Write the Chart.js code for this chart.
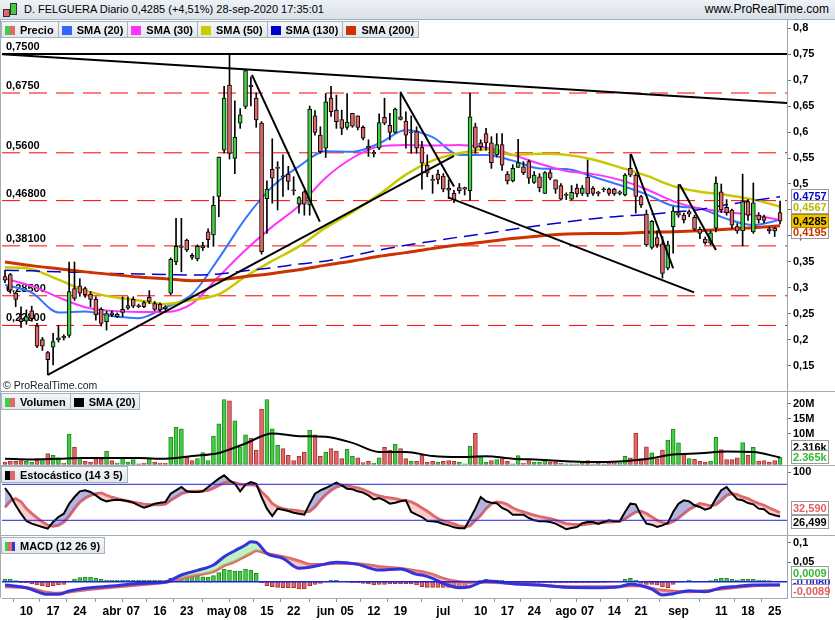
<!DOCTYPE html>
<html>
<head>
<meta charset="utf-8">
<title>D. FELGUERA Diario</title>
<script src="https://cdn.jsdelivr.net/npm/chart.js@4.4.1/dist/chart.umd.min.js"></script>
<style>
  html, body { margin: 0; padding: 0; background: #fff; }
  body { width: 835px; height: 620px; position: relative; overflow: hidden; font-family: "Liberation Sans", Arial, sans-serif; }
  .abs { position: absolute; }
  canvas { position: absolute; left: 0; display: block; }
  #head { left: 0; top: 0; width: 835px; height: 20px; background: linear-gradient(#eef2f6, #d9e0e7); border-bottom: 1px solid #a7b1bb; box-sizing: border-box; }
  #title { left: 24px; top: 3px; font-size: 11px; white-space: nowrap; }
  #site { right: 6px; top: 2px; font-size: 12px; white-space: nowrap; }
  .legend { display: flex; }
  .legend div { height: 17px; line-height: 16px; padding: 0 4px 0 3px; border: 1px solid #a9b3bd; margin-right: -1px; background: linear-gradient(#f4f6f8, #e2e7ec); font-size: 11px; font-weight: bold; white-space: nowrap; box-sizing: border-box; }
  .legend i { display: inline-block; width: 10px; height: 9px; vertical-align: -1px; margin-right: 5px; }
  .sep { left: 0; width: 835px; height: 1px; background: #a3adb7; }
  #copy { left: 3px; top: 379px; font-size: 10.5px; color: #222; }
</style>
</head>
<body>
<canvas id="cPrice" width="835" height="371" style="top:20px"></canvas>
<canvas id="cVol" width="835" height="73" style="top:392px"></canvas>
<canvas id="cSto" width="835" height="69" style="top:466px"></canvas>
<canvas id="cMacd" width="835" height="84" style="top:536px"></canvas>

<div class="abs sep" style="top:391px"></div>
<div class="abs sep" style="top:465px"></div>
<div class="abs sep" style="top:535px"></div>
<div class="abs" style="left:0;top:20px;width:1px;height:578px;background:#a3adb7"></div>

<div id="head" class="abs">
  <span class="abs" style="left:3px;top:9px;width:5px;height:6px;background:#e06868;border:1px solid #333"></span>
  <span class="abs" style="left:10px;top:3px;width:5px;height:10px;background:#44cc44;border:1px solid #333"></span>
  <div id="title" class="abs">D. FELGUERA Diario 0,4285 (+4,51%) 28-sep-2020 17:35:01</div>
  <div id="site" class="abs">www.ProRealTime.com</div>
</div>

<div class="abs legend" style="left:1px;top:21px">
  <div><i style="background:linear-gradient(90deg,#44cc44 50%,#e06868 50%)"></i>Precio</div>
  <div><i style="background:#3366ff"></i>SMA (20)</div>
  <div><i style="background:#ff33ff"></i>SMA (30)</div>
  <div><i style="background:#cccc00"></i>SMA (50)</div>
  <div><i style="background:#0000cc"></i>SMA (130)</div>
  <div><i style="background:#cc3300"></i>SMA (200)</div>
</div>
<div class="abs legend" style="left:1px;top:393px">
  <div><i style="background:linear-gradient(90deg,#44cc44 50%,#e06868 50%)"></i>Volumen</div>
  <div><i style="background:#000"></i>SMA (20)</div>
</div>
<div class="abs legend" style="left:1px;top:466px">
  <div><i style="background:linear-gradient(90deg,#000 50%,#e06868 50%)"></i>Estocástico (14 3 5)</div>
</div>
<div class="abs legend" style="left:1px;top:537px">
  <div><i style="background:linear-gradient(90deg,#44cc44 33%,#e06868 33%,#e06868 66%,#3333dd 66%)"></i>MACD (12 26 9)</div>
</div>
<div id="copy" class="abs">© ProRealTime.com</div>

<script>
// x axis: one slot per trading day, 4 mar -> 28 sep 2020
const xTickIdx = [4, 9, 14, 20, 24, 29, 34, 40, 44, 49, 54, 60, 64, 69, 74, 82, 89, 94, 99, 105, 109, 114, 119, 126, 134, 139, 144];
const xTickText = ['10', '17', '24', 'abr', '07', '16', '23', 'may', '08', '15', '22', 'jun', '05', '12', '19', 'jul', '10', '17', '24', 'ago', '07', '14', '21', 'sep', '11', '18', '25'];

// daily prices
const open = [0.322,0.326,0.290,0.241,0.236,0.256,0.227,0.201,0.176,0.186,
  0.200,0.204,0.209,0.299,0.304,0.299,0.288,0.278,0.259,0.235,
  0.252,0.245,0.259,0.261,0.278,0.266,0.272,0.282,0.270,0.269,
  0.260,0.290,0.350,0.381,0.392,0.363,0.356,0.377,0.408,0.402,
  0.476,0.565,0.690,0.549,0.617,0.649,0.690,0.665,0.617,0.472,
  0.528,0.532,0.515,0.519,0.488,0.461,0.485,0.460,0.631,0.594,
  0.569,0.665,0.642,0.624,0.609,0.636,0.631,0.609,0.573,0.561,
  0.569,0.628,0.613,0.599,0.624,0.621,0.600,0.601,0.571,0.536,
  0.508,0.519,0.515,0.492,0.482,0.493,0.493,0.487,0.610,0.579,
  0.597,0.579,0.556,0.576,0.519,0.506,0.532,0.533,0.543,0.503,
  0.514,0.482,0.522,0.508,0.497,0.478,0.471,0.492,0.482,0.513,
  0.492,0.483,0.489,0.490,0.490,0.482,0.479,0.530,0.517,0.476,
  0.442,0.378,0.397,0.385,0.338,0.418,0.445,0.440,0.447,0.436,
  0.413,0.394,0.386,0.415,0.485,0.455,0.450,0.418,0.410,0.466,
  0.408,0.440,0.437,0.414,0.415,0.445];
const high = [0.334,0.328,0.292,0.264,0.258,0.265,0.232,0.205,0.178,0.213,
  0.228,0.210,0.350,0.350,0.318,0.302,0.293,0.283,0.262,0.255,
  0.256,0.252,0.283,0.283,0.283,0.269,0.275,0.295,0.274,0.271,
  0.266,0.358,0.434,0.434,0.394,0.366,0.383,0.388,0.414,0.476,
  0.552,0.688,0.751,0.660,0.645,0.720,0.706,0.675,0.620,0.506,
  0.587,0.543,0.556,0.534,0.514,0.476,0.487,0.650,0.641,0.610,
  0.674,0.688,0.671,0.642,0.674,0.636,0.631,0.612,0.585,0.565,
  0.635,0.665,0.636,0.646,0.677,0.639,0.631,0.610,0.582,0.556,
  0.517,0.527,0.520,0.508,0.488,0.501,0.494,0.675,0.617,0.585,
  0.607,0.591,0.597,0.597,0.524,0.537,0.586,0.543,0.546,0.524,
  0.520,0.524,0.527,0.508,0.501,0.483,0.497,0.500,0.497,0.546,
  0.495,0.486,0.493,0.492,0.492,0.487,0.520,0.557,0.520,0.478,
  0.450,0.430,0.410,0.399,0.390,0.456,0.499,0.444,0.450,0.440,
  0.417,0.398,0.410,0.514,0.500,0.470,0.452,0.424,0.519,0.470,
  0.502,0.445,0.440,0.417,0.417,0.467];
const low = [0.310,0.290,0.264,0.224,0.230,0.236,0.185,0.180,0.133,0.152,
  0.196,0.200,0.205,0.276,0.284,0.282,0.264,0.238,0.227,0.219,
  0.245,0.243,0.245,0.259,0.262,0.262,0.262,0.270,0.256,0.255,
  0.257,0.287,0.345,0.331,0.370,0.355,0.352,0.372,0.378,0.380,
  0.437,0.560,0.548,0.520,0.607,0.645,0.650,0.609,0.365,0.405,
  0.463,0.450,0.476,0.489,0.479,0.444,0.440,0.440,0.594,0.559,
  0.551,0.630,0.607,0.595,0.605,0.609,0.604,0.585,0.553,0.552,
  0.566,0.614,0.585,0.598,0.623,0.569,0.559,0.559,0.490,0.514,
  0.482,0.500,0.485,0.472,0.464,0.482,0.479,0.469,0.559,0.565,
  0.565,0.530,0.552,0.526,0.500,0.504,0.532,0.518,0.501,0.501,
  0.485,0.482,0.508,0.482,0.469,0.470,0.469,0.475,0.478,0.476,
  0.478,0.477,0.485,0.478,0.478,0.479,0.477,0.514,0.444,0.455,
  0.380,0.375,0.378,0.319,0.335,0.367,0.436,0.425,0.437,0.410,
  0.395,0.384,0.383,0.408,0.445,0.440,0.415,0.405,0.381,0.430,
  0.405,0.425,0.425,0.405,0.399,0.423];
const close = [0.315,0.296,0.278,0.235,0.245,0.241,0.188,0.188,0.162,0.197,
  0.204,0.207,0.293,0.280,0.290,0.287,0.278,0.248,0.232,0.251,
  0.248,0.250,0.253,0.266,0.265,0.264,0.264,0.274,0.259,0.258,
  0.264,0.355,0.380,0.378,0.373,0.359,0.380,0.381,0.393,0.459,
  0.552,0.665,0.559,0.590,0.633,0.718,0.687,0.623,0.370,0.490,
  0.511,0.530,0.514,0.505,0.487,0.474,0.461,0.644,0.599,0.562,
  0.658,0.639,0.620,0.607,0.619,0.611,0.609,0.588,0.569,0.558,
  0.618,0.617,0.599,0.644,0.629,0.594,0.598,0.569,0.540,0.521,
  0.507,0.509,0.490,0.488,0.470,0.487,0.490,0.629,0.569,0.572,
  0.579,0.541,0.576,0.536,0.506,0.530,0.541,0.522,0.511,0.517,
  0.493,0.522,0.511,0.490,0.471,0.479,0.484,0.481,0.492,0.481,
  0.482,0.482,0.490,0.482,0.481,0.485,0.517,0.517,0.476,0.460,
  0.383,0.428,0.383,0.328,0.383,0.448,0.440,0.431,0.442,0.413,
  0.405,0.387,0.406,0.502,0.450,0.445,0.421,0.410,0.466,0.440,
  0.464,0.431,0.430,0.410,0.410,0.4285];

// moving averages, read every 5 sessions
const maIdx = [0,5,10,15,20,25,30,35,40,45,50,55,60,65,70,75,80,85,90,95,100,105,110,115,120,125,130,135,140,145];
const sma20 = [0.306,0.291,0.253,0.255,0.246,0.242,0.263,0.288,0.357,0.434,0.495,0.534,0.563,0.562,0.578,0.604,0.590,0.556,0.556,0.545,0.530,0.529,0.514,0.498,0.480,0.458,0.453,0.433,0.421,0.431];
const sma30 = [0.318,0.304,0.282,0.263,0.256,0.254,0.254,0.270,0.322,0.373,0.418,0.458,0.512,0.550,0.572,0.575,0.574,0.575,0.570,0.556,0.539,0.525,0.519,0.508,0.490,0.467,0.453,0.446,0.440,0.431];
const sma50 = [0.340,0.336,0.316,0.295,0.283,0.276,0.269,0.277,0.288,0.322,0.352,0.380,0.416,0.446,0.480,0.518,0.545,0.559,0.567,0.556,0.558,0.556,0.547,0.532,0.516,0.496,0.485,0.479,0.470,0.4567];
const sma130 = [0.334,0.333,0.331,0.330,0.328,0.327,0.326,0.325,0.327,0.333,0.339,0.346,0.352,0.362,0.373,0.382,0.390,0.398,0.405,0.413,0.420,0.427,0.433,0.438,0.441,0.446,0.451,0.460,0.468,0.4757];
const sma200 = [0.350,0.343,0.337,0.331,0.326,0.321,0.318,0.314,0.316,0.322,0.328,0.335,0.344,0.352,0.361,0.368,0.376,0.383,0.389,0.395,0.400,0.404,0.405,0.405,0.407,0.408,0.410,0.413,0.416,0.4195];

// drawn support / resistance levels and trend lines (session index, price)
const topLevel = 0.75;
const dashLevels = [0.675, 0.56, 0.468, 0.381, 0.285, 0.228];
const levelText = ['0,7500', '0,6750', '0,5600', '0,46800', '0,38100', '0,28500', '0,22800'];
const trendLines = [
  [[-0.5, 0.7496], [146.3, 0.656]],
  [[8, 0.133], [84, 0.554]],
  [[46.2, 0.710], [58.9, 0.4275]],
  [[74, 0.676], [84, 0.495]],
  [[82.9, 0.4744], [128.9, 0.2917]],
  [[117.1, 0.5577], [125, 0.338]],
  [[126.2, 0.4994], [133, 0.373]]
];

// volume (millions) and direction vs previous close
const volume = [0.8,1.0,1.0,1.3,1.0,0.8,1.9,1.3,3.6,3.0,
  2.2,0.45,10.0,5.6,1.6,1.0,0.7,1.9,1.7,4.4,
  1.3,0.45,2.4,0.7,1.6,0.2,0.45,1.9,0.8,0.45,
  0.45,8.9,12.2,11.7,2.4,1.3,1.9,3.9,1.3,9.3,
  13.3,21.3,20.9,14.3,5.8,9.7,8.6,4.7,18.2,21.3,
  11.7,6.3,5.2,3.0,1.3,2.7,4.1,11.3,9.7,2.7,
  4.1,5.2,4.4,1.9,5.0,2.7,2.2,0.6,1.0,0.45,
  2.2,5.6,4.7,6.7,5.2,1.9,1.1,1.0,3.0,0.8,
  1.0,0.8,1.0,1.3,1.0,0.8,0.2,6.0,10.2,2.7,
  0.8,1.3,1.6,1.9,1.0,0.2,2.9,0.45,1.3,0.8,
  0.8,1.3,0.8,0.8,0.45,0.2,0.2,0.2,0.8,1.3,
  0.2,0.45,0.2,0.45,0.45,0.45,2.7,2.2,10.2,1.9,
  5.8,3.8,1.9,4.7,8.0,11.6,7.1,3.6,1.9,1.7,
  1.1,0.8,1.1,8.9,4.9,1.6,1.6,2.2,7.2,3.0,
  5.6,1.1,1.3,0.8,1.3,2.365];
const volUp = [0,0,0,0,1,1,0,1,0,1, 1,0,1,0,1,0,0,0,0,1, 0,1,1,1,1,0,0,1,0,0,
  0,1,1,1,0,0,1,1,1,1, 1,1,0,1,1,1,0,0,0,1, 1,1,0,0,0,0,0,1,0,0,
  1,0,0,0,1,1,0,0,0,1, 1,0,0,1,0,0,1,0,0,0, 0,1,0,0,0,1,1,1,0,1,
  1,0,1,0,0,1,1,0,0,1, 1,1,0,0,0,1,1,0,1,0, 1,0,1,0,0,1,1,0,0,0,
  0,1,0,0,1,1,1,0,1,0, 0,0,1,1,0,0,0,0,1,0, 1,0,0,0,0,1];
const volSma = [1.9,1.67,1.9,2.1,2.1,2.1,1.9,2.78,3.8,6.9,10.2,9.3,9.1,7.1,4.1,4.1,2.78,2.45,2.67,1.9,1.56,1.1,0.78,1.0,1.78,3.3,3.67,4.3,4.1,2.316];

// stochastic (14 3 5)
const stochK = [73.8,61.6,44.9,31,18.8,14.4,11.6,8.8,6.1,17.2,
  25.5,31,47.7,58.8,68.3,70,67.2,61.6,55,51.6,
  53.3,54.4,53.3,52.2,49.4,45,41,43.8,47.7,49.4,
  50.5,64.4,70,75.5,68.3,67.2,67.2,68.3,75.5,82.7,
  89.4,95,86.6,81,68.3,79.4,83.8,81,58.8,39.4,
  27.2,39.4,37.7,35.5,32.7,31,29.4,47.7,64.4,70,
  73.8,78.3,82.7,78.3,72.7,71.6,68.3,66.1,61.6,55,
  57.2,53.3,47.7,49.4,51.6,53.3,33.8,29.4,25.5,18.8,
  18.3,17.2,13.8,11.6,8.3,6.6,6.6,22.7,39.4,58.8,
  51.6,49.4,48.3,40.5,36.6,29.4,29.4,29.4,23.8,20,
  18.3,18.3,17.2,14.4,10,5,7.2,8.8,15,17.2,
  17.2,13.8,17.2,20,18.3,18.3,33.8,47.7,46.6,28.3,
  14.4,12.7,8.8,11.6,15.5,33.8,47.7,53.3,51.6,45,
  42.2,37.7,40.5,56.1,70,75.5,64.4,55,53.3,48.8,
  46.6,39.4,38.3,31,28.3,26.499];
const stochD = [41.5,52,56,50.5,39.4,31,23.8,17.2,11.6,10,
  11.6,17.2,27.2,39.4,50.5,57.2,61.6,64.4,65.5,61.6,
  58.3,56,53.9,51.6,50,48.3,46.6,46.1,46.1,46.1,
  47.2,53.3,58.8,64.4,67.2,68.3,68.3,68.8,70,73.8,
  78.3,82.7,83.8,82.7,79.9,79.4,79.4,78.3,67.2,58.8,
  47.7,42.2,39.4,37.7,36.6,35.5,33.8,35,42.2,53.3,
  62.7,70,75.5,78.3,77.2,75.5,73.8,71,67.2,63.3,
  60.5,58.3,57.2,56,53.9,52.8,50.5,46.1,40.5,34.9,
  28.3,22.7,18.8,16.6,13.8,10.5,8.8,11,20,28.3,
  39.4,47.7,50.5,49.4,46.1,40.5,36.6,33.8,31,28.3,
  26.1,24.4,22.7,20,17.2,14.4,13.3,12.7,12.7,13.8,
  15,16.1,16.6,17.2,17.7,18.3,22.7,28.3,33.8,34.9,
  31,25.5,20,16.1,14.4,18.3,23.8,31,38.3,43.3,
  47.7,46.1,43.9,46.1,53.3,61.6,64.4,62.7,58.8,56.1,
  51.6,47.7,45,40.5,36.6,32.59];
const stochLevels = [80, 20];

// MACD (12 26 9)
const macdIdx = [0,4,8,10,12,16,20,25,30,33,36,39,41,43,45,46,47,49,52,55,57,59,62,66,70,74,77,78,80,82,85,87,90,95,100,105,110,115,117,119,121,123,125,128,131,134,137,140,143,145];
const macdLine = [-0.0085,-0.0154,-0.0325,-0.0325,-0.0239,-0.0154,-0.0111,-0.0043,-0.0009,0.0171,
  0.0291,0.0427,0.0641,0.0795,0.0940,0.1026,0.1009,0.0726,0.0598,0.0342,
  0.0368,0.0427,0.0496,0.0444,0.0299,0.0325,0.0188,0.0171,0.0085,-0.0043,
  -0.0154,-0.0128,0.0017,-0.0051,-0.0085,-0.0145,-0.0154,-0.0128,-0.0068,-0.0103,
  -0.0188,-0.0342,-0.0308,-0.0231,-0.0256,-0.0154,-0.0120,-0.0085,-0.0085,-0.0080];
const macdSignal = [-0.0128,-0.0154,-0.0274,-0.0299,-0.0265,-0.0197,-0.0145,-0.0085,-0.0017,0.0085,
  0.0171,0.0256,0.0410,0.0513,0.0658,0.0726,0.0795,0.0726,0.0641,0.0530,
  0.0444,0.0444,0.0470,0.0462,0.0385,0.0342,0.0274,0.0256,0.0188,0.0085,
  0.0000,-0.0017,-0.0017,-0.0043,-0.0085,-0.0128,-0.0128,-0.0120,-0.0103,-0.0103,
  -0.0171,-0.0222,-0.0248,-0.0256,-0.0231,-0.0188,-0.0145,-0.0103,-0.0085,-0.0089];
const macdHist = [0.0068,0.0068,0.0026,-0.0026,-0.0026,-0.006,-0.0085,-0.0103,-0.0128,-0.0103,
  -0.0085,-0.0068,0.0009,0.0068,0.0103,0.012,0.012,0.0094,0.0068,0.0043,
  0.0034,0.0034,0.0034,0.0034,0.0034,0.0034,0.0034,0.0034,0.0034,0.0034,
  0.0026,0.0085,0.0103,0.0128,0.0154,0.0154,0.0154,0.0128,0.012,0.0154,
  0.0231,0.0325,0.0299,0.0274,0.0274,0.0325,0.0299,0.0214,-0.0026,-0.0103,
  -0.0128,-0.0145,-0.0154,-0.0154,-0.0154,-0.0188,-0.0188,-0.0103,-0.0068,-0.0043,
  -0.0008,0.0034,0.0034,0.0005,-0.0005,-0.0026,-0.0026,-0.0043,-0.006,-0.0085,
  -0.0068,-0.0068,-0.006,-0.0051,-0.006,-0.0051,-0.006,-0.0085,-0.0128,-0.0145,
  -0.0145,-0.0145,-0.0145,-0.0145,-0.0145,-0.0145,-0.0128,-0.0043,0.0009,0.0043,
  0.0068,0.0043,0.0043,0.0043,-0.0026,-0.0026,-0.003,-0.0034,-0.003,-0.0026,
  -0.0026,-0.003,-0.0034,-0.0034,-0.003,-0.0026,-0.0026,-0.003,-0.0026,-0.0026,
  -0.0026,-0.0026,-0.002,-0.0009,-0.0005,0.0009,0.006,0.0085,0.0043,-0.0043,
  -0.0068,-0.0068,-0.0085,-0.0128,-0.0154,-0.0068,-0.0009,0.0005,0.0043,0.0005,
  -0.0005,0.0009,0.0026,0.0068,0.0085,0.0085,0.006,0.0043,0.006,0.006,
  0.006,0.0043,0.0043,0.0026,0.0015,0.0009];

// ---------- drawing ----------
const FONT = '"Liberation Sans", Arial, sans-serif';
Chart.defaults.font.family = FONT;
const GREEN = '#44cc44', RED = '#e06868';
const xMin = -0.56, xMax = 146.3;
const idx = open.map((_, i) => i);
const last = a => a[a.length - 1];
const comma = (v, d) => v.toFixed(d).replace('.', ',');
const pts = (xs, ys) => xs.map((x, k) => ({ x, y: ys[k] }));
const hline = v => [{ x: xMin, y: v }, { x: xMax, y: v }];

function line(data, color, width, extra) {
  return Object.assign({ type: 'line', data, borderColor: color, borderWidth: width,
    pointRadius: 0, fill: false, tension: 0 }, extra || {});
}

// no extra padding around the plot for the edge tick labels
function noPad(s) { s.paddingTop = 0; s.paddingBottom = 0; s.paddingLeft = 0; s.paddingRight = 0; }

function xAxis(show) {
  if (!show) return { type: 'linear', min: xMin, max: xMax, offset: false, display: false };
  return {
    type: 'linear', min: xMin, max: xMax, offset: false,
    afterFit: s => { s.height = 22; noPad(s); },
    afterBuildTicks: s => { s.ticks = xTickIdx.map(v => ({ value: v })); },
    ticks: { autoSkip: false, maxRotation: 0, padding: 2, color: '#000',
      font: { size: 12, weight: 'bold' },
      callback: v => xTickText[xTickIdx.indexOf(v)] || '' },
    grid: { drawOnChartArea: false, tickLength: 4, color: '#8c96a0' },
    border: { color: '#a3adb7' }
  };
}

function yAxis(min, max, ticks, fmt) {
  return {
    position: 'right', min, max,
    afterFit: s => { s.width = 48; noPad(s); },
    afterBuildTicks: s => { s.ticks = ticks.map(v => ({ value: v })); },
    ticks: { color: '#000', padding: 2, font: { size: 11, weight: 'bold' }, callback: fmt },
    grid: { drawOnChartArea: false, tickLength: 4, color: '#707070' },
    border: { color: '#9aa5b0' }
  };
}

function baseOptions(scales) {
  return {
    responsive: false, animation: false, events: [], devicePixelRatio: 1,
    layout: { padding: { left: 2, right: 0, top: 0, bottom: 0 } },
    plugins: { legend: { display: false }, tooltip: { enabled: false } },
    scales
  };
}

// level captions on the left and value boxes on the right axis
function overlay(levels, boxes, sep) {
  return {
    id: 'overlay',
    beforeDatasetsDraw(chart) {
      if (!levels) return;
      const { ctx, chartArea, scales: { y } } = chart;
      ctx.save();
      ctx.font = 'bold 11px ' + FONT;
      ctx.fillStyle = '#000';
      levels.forEach(l => ctx.fillText(l.text, chartArea.left + 4, y.getPixelForValue(l.value) - 4));
      ctx.restore();
    },
    afterDraw(chart) {
      const { ctx, chartArea, scales: { y } } = chart;
      const items = boxes.map((b, k) => Object.assign({ y: y.getPixelForValue(b.value), k }, b));
      const sorted = items.slice().sort((a, b) => Math.abs(a.y - b.y) < 2 ? a.k - b.k : a.y - b.y);
      const groups = [];
      sorted.forEach(it => {
        const g = groups[groups.length - 1];
        if (g && it.y - g[g.length - 1].y < sep) g.push(it); else groups.push([it]);
      });
      groups.forEach(g => {
        const f = g.findIndex(it => it.fixed);
        let start = f >= 0 ? g[f].y - f * sep
          : g.reduce((s, it) => s + it.y, 0) / g.length - (g.length - 1) * sep / 2;
        start = Math.min(start, chartArea.bottom - 7 - (g.length - 1) * sep);
        start = Math.max(start, chartArea.top + 7);
        g.forEach((it, k) => { it.py = start + k * sep; });
      });
      ctx.save();
      ctx.font = 'bold 11px ' + FONT;
      ctx.textBaseline = 'middle';
      const x0 = chartArea.right + 4, w = 38, h = 14;
      items.forEach(it => {
        const top = Math.round(it.py - h / 2);
        ctx.fillStyle = it.bg || '#fff';
        ctx.fillRect(x0, top, w, h);
        ctx.strokeStyle = it.bg ? '#b08a00' : '#9c9c9c';
        ctx.lineWidth = 1;
        ctx.strokeRect(x0 + 0.5, top + 0.5, w - 1, h - 1);
        ctx.fillStyle = it.color;
        ctx.fillText(it.text, x0 + 2, top + h / 2 + 0.5);
      });
      ctx.restore();
    }
  };
}

// price panel
const allLevels = [topLevel].concat(dashLevels);
new Chart(document.getElementById('cPrice'), {
  type: 'bar',
  data: {
    datasets: [
      ...dashLevels.map(v => line(hline(v), '#ff0000', 1, { borderDash: [18, 9], order: 60 })),
      line(hline(topLevel), '#000', 2, { order: 60 }),
      line(pts(maIdx, sma200), '#cc3300', 3, { order: 50, cubicInterpolationMode: 'monotone' }),
      line(pts(maIdx, sma130), '#0000cc', 1.5, { order: 50, borderDash: [14, 7], cubicInterpolationMode: 'monotone' }),
      line(pts(maIdx, sma50), '#c8c800', 2.5, { order: 50, cubicInterpolationMode: 'monotone' }),
      line(pts(maIdx, sma30), '#ff33ff', 2, { order: 50, cubicInterpolationMode: 'monotone' }),
      line(pts(maIdx, sma20), '#3377ff', 2, { order: 50, cubicInterpolationMode: 'monotone' }),
      { type: 'bar', data: idx.map(i => ({ x: i, y: [low[i], high[i]] })), backgroundColor: '#000',
        barThickness: 1, grouped: false, order: 30 },
      { type: 'bar', data: idx.map(i => ({ x: i, y: [open[i], close[i]] })),
        backgroundColor: c => close[c.dataIndex] >= open[c.dataIndex] ? GREEN : RED,
        borderColor: '#000', borderWidth: 1, borderSkipped: false, barThickness: 4,
        minBarLength: 1, grouped: false, order: 20 },
      ...trendLines.map(t => line(t.map(([x, y]) => ({ x, y })), '#000', 2, { order: 10 }))
    ]
  },
  options: baseOptions({
    x: xAxis(false),
    y: yAxis(0.1019, 0.8154, [0.15, 0.2, 0.25, 0.3, 0.35, 0.4, 0.45, 0.5, 0.55, 0.6, 0.65, 0.7, 0.75, 0.8],
      v => String(+v.toFixed(2)).replace('.', ','))
  }),
  plugins: [overlay(
    allLevels.map((v, k) => ({ value: v, text: levelText[k] })),
    [
      { value: last(sma130), text: comma(last(sma130), 4), color: '#0000cc' },
      { value: last(sma50), text: comma(last(sma50), 4), color: '#b8b800' },
      { value: last(sma200), text: comma(last(sma200), 4), color: '#cc3300' },
      { value: last(close), text: comma(last(close), 4), color: '#000', bg: '#f2c200', fixed: true }
    ], 11)]
});

// volume panel
new Chart(document.getElementById('cVol'), {
  type: 'bar',
  data: {
    datasets: [
      line(pts(maIdx, volSma), '#000', 2, { order: 1, cubicInterpolationMode: 'monotone' }),
      { type: 'bar', data: idx.map(i => ({ x: i, y: volume[i] })),
        backgroundColor: c => volUp[c.dataIndex] ? GREEN : RED,
        borderColor: c => volUp[c.dataIndex] ? '#1f8a1f' : '#a83232',
        borderWidth: 1, borderSkipped: false, barThickness: 4, grouped: false, order: 2 }
    ]
  },
  options: baseOptions({
    x: xAxis(false),
    y: yAxis(-0.164, 23.77, [10, 15, 20], v => v + 'M')
  }),
  plugins: [overlay(null, [
    { value: last(volSma), text: last(volSma).toFixed(3) + 'k', color: '#000' },
    { value: last(volume), text: last(volume).toFixed(3) + 'k', color: '#33bb33', fixed: true }
  ], 10)]
});

// stochastic panel
new Chart(document.getElementById('cSto'), {
  type: 'line',
  data: {
    datasets: [
      line(pts(idx, stochD), '#e06464', 3, { order: 3 }),
      line(pts(idx, stochK), '#000', 2, { order: 2,
        fill: { target: 0, above: 'rgba(120,120,195,0.55)', below: 'rgba(238,140,140,0.42)' } }),
      ...stochLevels.map(v => line(hline(v), '#2020dd', 1, { order: 1 }))
    ]
  },
  options: baseOptions({
    x: xAxis(false),
    y: yAxis(-4.5, 110.5, [100], v => String(v))
  }),
  plugins: [overlay(null, [
    { value: last(stochD), text: comma(last(stochD), 3), color: '#e06060' },
    { value: last(stochK), text: comma(last(stochK), 3), color: '#000' }
  ], 14)]
});

// MACD panel with the date axis
new Chart(document.getElementById('cMacd'), {
  type: 'bar',
  data: {
    datasets: [
      { type: 'bar', data: idx.map(i => ({ x: i, y: macdHist[i] })),
        backgroundColor: c => macdHist[c.dataIndex] >= 0 ? GREEN : RED,
        borderColor: c => macdHist[c.dataIndex] >= 0 ? '#1f8a1f' : '#a83232',
        borderWidth: 1, borderSkipped: false, barThickness: 4, grouped: false, order: 4 },
      line(pts(macdIdx, macdSignal), '#e06464', 3, { order: 3, cubicInterpolationMode: 'monotone' }),
      line(pts(macdIdx, macdLine), '#3333dd', 3, { order: 2, cubicInterpolationMode: 'monotone',
        fill: { target: 1, above: 'rgba(140,230,140,0.55)', below: 'rgba(238,140,140,0.5)' } }),
      line(hline(0), '#2020dd', 1.5, { order: 1 })
    ]
  },
  options: baseOptions({
    x: xAxis(true),
    y: yAxis(-0.0418, 0.1172, [0.05, 0.1], v => String(+v.toFixed(2)).replace('.', ','))
  }),
  plugins: [overlay(null, [
    { value: last(macdLine), text: comma(last(macdLine), 4), color: '#2222cc' },
    { value: last(macdHist), text: comma(last(macdHist), 4), color: '#33bb33' },
    { value: last(macdSignal), text: comma(last(macdSignal), 4), color: '#e06060' }
  ], 9)]
});
</script>
</body>
</html>
